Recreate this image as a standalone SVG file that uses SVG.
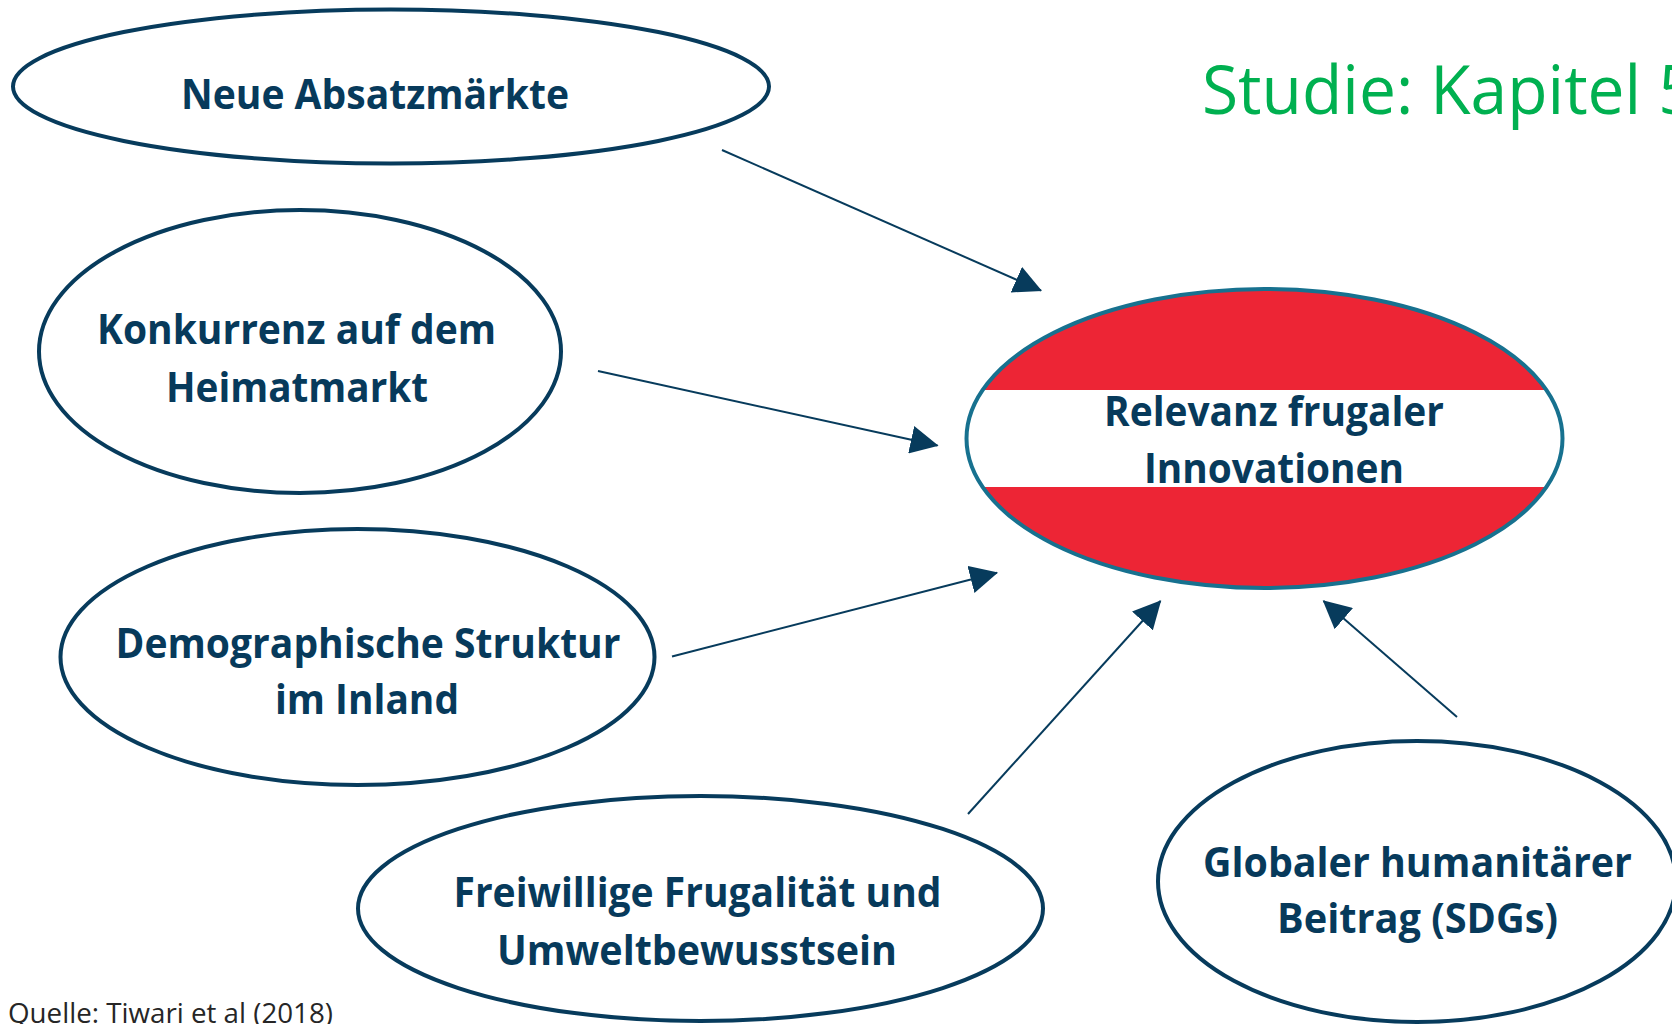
<svg xmlns="http://www.w3.org/2000/svg" width="1672" height="1024" viewBox="0 0 1672 1024">
  <style>
    .node { fill: #ffffff; stroke: #073B5C; stroke-width: 4; }
    .lbl { font-family: "Open Sans", "Liberation Sans", sans-serif; font-weight: 700; font-size: 41px; fill: #073A5B; text-anchor: start; }
    .conn { stroke: #073B5C; stroke-width: 2; fill: none; marker-end: url(#arrow); }
    .title { font-family: "Open Sans", "Liberation Sans", sans-serif; font-size: 67px; fill: #00B050; }
    .src { font-family: "Open Sans", "Liberation Sans", sans-serif; font-size: 27px; fill: #262626; }
  </style>
  <defs>
    <marker id="arrow" markerUnits="userSpaceOnUse" markerWidth="28" markerHeight="28" viewBox="0 0 26 26" refX="25" refY="13" orient="auto">
      <path d="M0,0 L26,13 L0,26 z" fill="#073B5C"/>
    </marker>
    <clipPath id="centerClip">
      <ellipse cx="1264.5" cy="438.5" rx="298" ry="149.5"/>
    </clipPath>
  </defs>
  <rect width="1672" height="1024" fill="#ffffff"/>

  <text class="title" x="1202" y="114" textLength="494" lengthAdjust="spacingAndGlyphs">Studie: Kapitel 5</text>

  <g id="connectors">
    <line class="conn" x1="722" y1="150" x2="1041" y2="290.5"/>
    <line class="conn" x1="598" y1="371" x2="937.5" y2="445.5"/>
    <line class="conn" x1="672" y1="656.5" x2="997" y2="572.7"/>
    <line class="conn" x1="968" y1="814" x2="1160.5" y2="601"/>
    <line class="conn" x1="1457" y1="717" x2="1323.5" y2="601"/>
  </g>

  <g id="node-neue-absatzmaerkte">
    <ellipse class="node" cx="391" cy="86.5" rx="378" ry="77"/>
    <text class="lbl" x="181" y="108.5" textLength="388" lengthAdjust="spacingAndGlyphs">Neue Absatzmärkte</text>
  </g>

  <g id="node-konkurrenz">
    <ellipse class="node" cx="300" cy="351.5" rx="261" ry="141.5"/>
    <text class="lbl" x="97" y="344" textLength="399" lengthAdjust="spacingAndGlyphs">Konkurrenz auf dem</text>
    <text class="lbl" x="166" y="402" textLength="262" lengthAdjust="spacingAndGlyphs">Heimatmarkt</text>
  </g>

  <g id="node-demographie">
    <ellipse class="node" cx="357.5" cy="657" rx="297" ry="128"/>
    <text class="lbl" x="115.5" y="658" textLength="505" lengthAdjust="spacingAndGlyphs">Demographische Struktur</text>
    <text class="lbl" x="275" y="713.5" textLength="184" lengthAdjust="spacingAndGlyphs">im Inland</text>
  </g>

  <g id="node-freiwillige">
    <ellipse class="node" cx="700.5" cy="908.5" rx="342.5" ry="112.5"/>
    <text class="lbl" x="453.5" y="906.5" textLength="488" lengthAdjust="spacingAndGlyphs">Freiwillige Frugalität und</text>
    <text class="lbl" x="497" y="964.5" textLength="400" lengthAdjust="spacingAndGlyphs">Umweltbewusstsein</text>
  </g>

  <g id="node-globaler">
    <ellipse class="node" cx="1417" cy="881.5" rx="259" ry="140.5"/>
    <text class="lbl" x="1203" y="876.5" textLength="429" lengthAdjust="spacingAndGlyphs">Globaler humanitärer</text>
    <text class="lbl" x="1277" y="932.5" textLength="281" lengthAdjust="spacingAndGlyphs">Beitrag (SDGs)</text>
  </g>

  <g id="node-relevanz">
    <g clip-path="url(#centerClip)">
      <rect x="960" y="285" width="610" height="105" fill="#ED2535"/>
      <rect x="960" y="390" width="610" height="97" fill="#ffffff"/>
      <rect x="960" y="487" width="610" height="106" fill="#ED2535"/>
    </g>
    <ellipse cx="1264.5" cy="438.5" rx="298" ry="149.5" fill="none" stroke="#17718F" stroke-width="4"/>
    <text class="lbl" x="1104" y="426" textLength="340" lengthAdjust="spacingAndGlyphs">Relevanz frugaler</text>
    <text class="lbl" x="1144" y="482.5" textLength="260" lengthAdjust="spacingAndGlyphs">Innovationen</text>
  </g>

  <text class="src" x="8" y="1023" textLength="325" lengthAdjust="spacingAndGlyphs">Quelle: Tiwari et al (2018)</text>
</svg>
